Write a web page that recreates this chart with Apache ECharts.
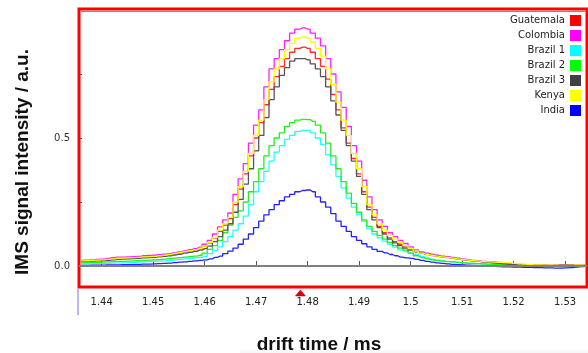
<!DOCTYPE html>
<html>
<head>
<meta charset="utf-8">
<script src="https://cdn.jsdelivr.net/npm/echarts@6/dist/echarts.min.js"></script>
<style>
html,body{margin:0;padding:0;background:#fff;}
#c{width:588px;height:353px;}
</style>
</head>
<body>
<div id="c"></div>
<script>
// drift time grid (ms)
const driftTime = [1.436,1.437,1.438,1.439,1.440,1.441,1.442,1.443,1.444,1.445,
1.446,1.447,1.448,1.449,1.450,1.451,1.452,1.453,1.454,1.455,
1.456,1.457,1.458,1.459,1.460,1.461,1.462,1.463,1.464,1.465,
1.466,1.467,1.468,1.469,1.470,1.471,1.472,1.473,1.474,1.475,
1.476,1.477,1.478,1.479,1.480,1.481,1.482,1.483,1.484,1.485,
1.486,1.487,1.488,1.489,1.490,1.491,1.492,1.493,1.494,1.495,
1.496,1.497,1.498,1.499,1.500,1.501,1.502,1.503,1.504,1.505,
1.506,1.507,1.508,1.509,1.510,1.511,1.512,1.513,1.514,1.515,
1.516,1.517,1.518,1.519,1.520,1.521,1.522,1.523,1.524,1.525,
1.526,1.527,1.528,1.529,1.530,1.531,1.532,1.533,1.534];

const guatemala = [0.020,0.021,0.021,0.022,0.023, 0.025,0.027,0.029,0.030,0.031,
0.032,0.033,0.035,0.036,0.037, 0.039,0.041,0.044,0.048,0.052,
0.056,0.059,0.063,0.068,0.077, 0.090,0.110,0.135,0.160,0.185,
0.24,0.30,0.36,0.43,0.50, 0.56,0.63,0.69,0.74,0.78,
0.81,0.835,0.85,0.855,0.85, 0.835,0.81,0.78,0.73,0.67,
0.61,0.54,0.48,0.42,0.36, 0.29,0.23,0.19,0.155,0.13,
0.11,0.095,0.085,0.075,0.065, 0.056,0.049,0.045,0.041,0.038,
0.035,0.033,0.030,0.028,0.025, 0.022,0.020,0.018,0.016,0.014,
0.012,0.010,0.008,0.007,0.006, 0.005,0.004,0.004,0.003,0.003,
0.002,0.001,0.002,0.002,0.003, 0.003,0.002,0.002,0.002];

const colombia = [0.022,0.023,0.024,0.026,0.027, 0.030,0.033,0.035,0.035,0.036,
0.037,0.038,0.040,0.041,0.042, 0.044,0.046,0.048,0.052,0.056,
0.060,0.064,0.068,0.074,0.085, 0.100,0.125,0.153,0.180,0.207,
0.28,0.34,0.40,0.48,0.55, 0.61,0.70,0.77,0.81,0.845,
0.88,0.91,0.925,0.93,0.925, 0.91,0.89,0.86,0.81,0.75,
0.68,0.62,0.545,0.47,0.41, 0.335,0.27,0.22,0.18,0.155,
0.13,0.115,0.10,0.088,0.075, 0.063,0.055,0.050,0.046,0.042,
0.039,0.037,0.034,0.031,0.028, 0.025,0.022,0.020,0.018,0.017,
0.016,0.014,0.012,0.010,0.008, 0.006,0.005,0.004,0.004,0.003,
0.003,0.002,0.003,0.004,0.003, 0.003,0.002,0.002,0.003];

const brazil1 = [0.008,0.008,0.009,0.009,0.010, 0.010,0.011,0.012,0.012,0.013,
0.014,0.015,0.016,0.017,0.018, 0.019,0.020,0.022,0.024,0.026,
0.028,0.030,0.032,0.034,0.038, 0.048,0.060,0.075,0.095,0.115,
0.14,0.165,0.195,0.24,0.29, 0.33,0.37,0.41,0.445,0.47,
0.495,0.51,0.525,0.53,0.53, 0.52,0.50,0.475,0.435,0.395,
0.35,0.305,0.265,0.23,0.20, 0.175,0.145,0.125,0.11,0.097,
0.085,0.074,0.063,0.056,0.050, 0.044,0.038,0.032,0.027,0.023,
0.020,0.018,0.016,0.014,0.012, 0.010,0.009,0.008,0.007,0.006,
0.005,0.004,0.003,0.002,0.002, 0.001,0.001,0.000,-0.001,0.000,
0.001,0.000,-0.001,-0.002,-0.001, 0.000,0.001,0.001,0.002];

const brazil2 = [0.013,0.013,0.014,0.014,0.015, 0.016,0.017,0.018,0.018,0.019,
0.020,0.021,0.022,0.023,0.024, 0.025,0.027,0.029,0.031,0.033,
0.035,0.037,0.039,0.042,0.050, 0.065,0.080,0.100,0.130,0.160,
0.19,0.215,0.25,0.29,0.33, 0.38,0.43,0.47,0.50,0.52,
0.545,0.56,0.57,0.573,0.572, 0.565,0.55,0.52,0.48,0.43,
0.38,0.33,0.285,0.245,0.21, 0.18,0.155,0.135,0.12,0.105,
0.092,0.080,0.070,0.062,0.050, 0.040,0.033,0.028,0.024,0.021,
0.019,0.017,0.016,0.014,0.012, 0.011,0.010,0.009,0.008,0.007,
0.006,0.005,0.004,0.004,0.003, 0.003,0.002,0.002,0.001,0.001,
0.001,0.000,0.001,0.001,0.002, 0.002,0.001,0.001,0.002];

const brazil3 = [0.018,0.019,0.019,0.020,0.021, 0.022,0.024,0.026,0.027,0.028,
0.029,0.030,0.032,0.033,0.034, 0.036,0.038,0.040,0.043,0.046,
0.050,0.053,0.057,0.062,0.068, 0.078,0.095,0.115,0.140,0.165,
0.21,0.26,0.32,0.38,0.45, 0.51,0.58,0.65,0.70,0.745,
0.775,0.80,0.81,0.81,0.805, 0.79,0.77,0.74,0.70,0.645,
0.59,0.53,0.47,0.41,0.35, 0.28,0.22,0.18,0.15,0.125,
0.105,0.090,0.080,0.070,0.062, 0.055,0.050,0.046,0.043,0.040,
0.037,0.034,0.031,0.028,0.025, 0.022,0.020,0.018,0.016,0.014,
0.012,0.010,0.008,0.006,0.005, 0.004,0.004,0.003,0.003,0.003,
0.002,0.002,0.002,0.003,0.003, 0.002,0.002,0.002,0.002];

const kenya = [0.020,0.021,0.022,0.023,0.024, 0.026,0.028,0.030,0.031,0.032,
0.033,0.034,0.036,0.037,0.038, 0.040,0.042,0.045,0.049,0.053,
0.057,0.060,0.064,0.069,0.078, 0.092,0.112,0.140,0.165,0.190,
0.25,0.31,0.37,0.44,0.51, 0.57,0.65,0.72,0.77,0.81,
0.845,0.87,0.89,0.895,0.89, 0.875,0.85,0.82,0.77,0.71,
0.64,0.57,0.51,0.44,0.38, 0.31,0.24,0.20,0.165,0.14,
0.12,0.105,0.092,0.080,0.068, 0.058,0.050,0.046,0.042,0.039,
0.036,0.034,0.031,0.028,0.026, 0.023,0.021,0.019,0.017,0.016,
0.015,0.014,0.013,0.012,0.010, 0.008,0.007,0.005,0.004,0.004,
0.003,0.003,0.003,0.002,0.002, 0.002,0.003,0.003,0.002];

const india = [0.002,0.002,0.003,0.003,0.003, 0.004,0.004,0.004,0.005,0.005,
0.006,0.006,0.007,0.007,0.008, 0.009,0.010,0.011,0.013,0.015,
0.016,0.018,0.020,0.022,0.024, 0.028,0.034,0.039,0.048,0.058,
0.070,0.085,0.105,0.125,0.150, 0.175,0.20,0.22,0.24,0.255,
0.27,0.28,0.29,0.295,0.297, 0.29,0.27,0.25,0.23,0.205,
0.175,0.155,0.135,0.115,0.10, 0.087,0.075,0.065,0.057,0.051,
0.045,0.040,0.035,0.032,0.030, 0.026,0.022,0.018,0.015,0.012,
0.010,0.008,0.006,0.005,0.004, 0.003,0.002,0.001,0.000,0.000,
-0.001,-0.002,-0.003,-0.003,-0.004, -0.004,-0.005,-0.005,-0.006,-0.006,
-0.007,-0.007,-0.008,-0.008,-0.007, -0.006,-0.004,-0.002,-0.001];

const seriesNames = ['Guatemala','Colombia','Brazil 1','Brazil 2','Brazil 3','Kenya','India'];
const seriesValues = [guatemala, colombia, brazil1, brazil2, brazil3, kenya, india];
const seriesColors = ['#ff0000','#ff00ff','#00ffff','#00ff00','#404040','#ffff00','#0000ff'];
const lineColors = ['#ff2a2a','#ff22ff','#22ffff','#22ee22','#555555','#ffff00','#2222ff'];

const xTicks = [1.44,1.45,1.46,1.47,1.48,1.49,1.50,1.51,1.52,1.53];
const yLabels = [0, 0.5];
const yTicks = [0, 0.25, 0.5, 0.75];
const cursorX = [1.4786];

const chart = echarts.init(document.getElementById('c'));

const series = [{
  name: 'zero', type: 'line', data: [], silent: true, z: 1,
  markLine: { silent: true, symbol: 'none', label: {show: false},
    lineStyle: {color: '#808080', width: 2, type: 'solid'},
    emphasis: {disabled: true},
    data: [{yAxis: 0}] }
}];
seriesNames.forEach((n, i) => {
  series.push({
    name: n, type: 'line', step: 'middle', symbol: 'none', showSymbol: false,
    data: driftTime.map((x, k) => [x, seriesValues[i][k]]),
    lineStyle: {color: lineColors[i], width: 1.3},
    itemStyle: {color: seriesColors[i]},
    emphasis: {disabled: true},
    z: 2
  });
});

const option = {
  animation: false,
  backgroundColor: '#ffffff',
  grid: {left: 79, top: 9, right: 1, bottom: 66, show: true,
         borderColor: '#ff0000', borderWidth: 3, backgroundColor: 'transparent'},
  legend: {
    data: seriesNames.map((n, i) => ({name: n, icon: 'rect', itemStyle: {color: seriesColors[i]}})),
    orient: 'vertical', align: 'right', right: 2, top: 10,
    itemWidth: 11, itemHeight: 11, itemGap: 4, selectedMode: false,
    textStyle: {fontFamily: 'DejaVu Sans', fontSize: 10, color: '#222'}
  },
  xAxis: {
    type: 'value', min: 1.43559, max: 1.53427,
    axisLine: {show: false},
    splitLine: {show: false},
    axisTick: {show: true, inside: true, length: 5, customValues: xTicks,
               lineStyle: {color: '#555', width: 1}},
    axisLabel: {customValues: xTicks, margin: 10, fontFamily: 'DejaVu Sans', fontSize: 10, color: '#222',
                formatter: v => String(+(+v).toFixed(2))}
  },
  yAxis: {
    type: 'value', min: -0.082, max: 1.004,
    axisLine: {show: false},
    splitLine: {show: false},
    axisTick: {show: true, inside: true, length: 3, customValues: yTicks,
               lineStyle: {color: '#555', width: 1}},
    axisLabel: {customValues: yLabels, margin: 9, fontFamily: 'DejaVu Sans', fontSize: 10, color: '#333',
                formatter: v => (+v).toFixed(1)}
  },
  series: series
};
chart.setOption(option);

const bottomY = chart.convertToPixel({gridIndex: 0}, [1.44, -0.082])[1];
const topY = chart.convertToPixel({gridIndex: 0}, [1.44, 1.004])[1];
const leftX = chart.convertToPixel({gridIndex: 0}, [1.43559, 0])[0];
const rightX = chart.convertToPixel({gridIndex: 0}, [1.53427, 0])[0];
const cx = chart.convertToPixel({gridIndex: 0}, [cursorX[0], 0])[0];

chart.setOption({
  graphic: [
    {type: 'line', shape: {x1: leftX + 2, y1: topY + 2.5, x2: rightX - 2, y2: topY + 2.5},
     style: {stroke: '#8a8a8a', lineWidth: 1}},
    {type: 'text', x: 23, y: 162, rotation: Math.PI / 2,
     style: {text: 'IMS signal intensity / a.u.', font: 'bold 19px "Liberation Sans"', fill: '#111',
             align: 'center', verticalAlign: 'middle', textAlign: 'center', textVerticalAlign: 'middle'}},
    {type: 'text', x: 319, y: 345,
     style: {text: 'drift time / ms', font: 'bold 19px "Liberation Sans"', fill: '#111',
             align: 'center', verticalAlign: 'middle', textAlign: 'center', textVerticalAlign: 'middle'}},
    {type: 'rect', shape: {x: 240, y: 350, width: 348, height: 3},
     style: {fill: '#f7f7f7'}, z: 100},
    {type: 'line', shape: {x1: leftX - 1, y1: bottomY + 2, x2: leftX - 1, y2: bottomY + 28},
     style: {stroke: '#6f6fff', lineWidth: 1}},
    {type: 'polygon', shape: {points: [[cx - 5, bottomY + 9], [cx + 5, bottomY + 9], [cx, bottomY + 3]]},
     style: {fill: '#dd0000', stroke: '#aa0000', lineWidth: 0.5}}
  ]
});
</script>
</body>
</html>
